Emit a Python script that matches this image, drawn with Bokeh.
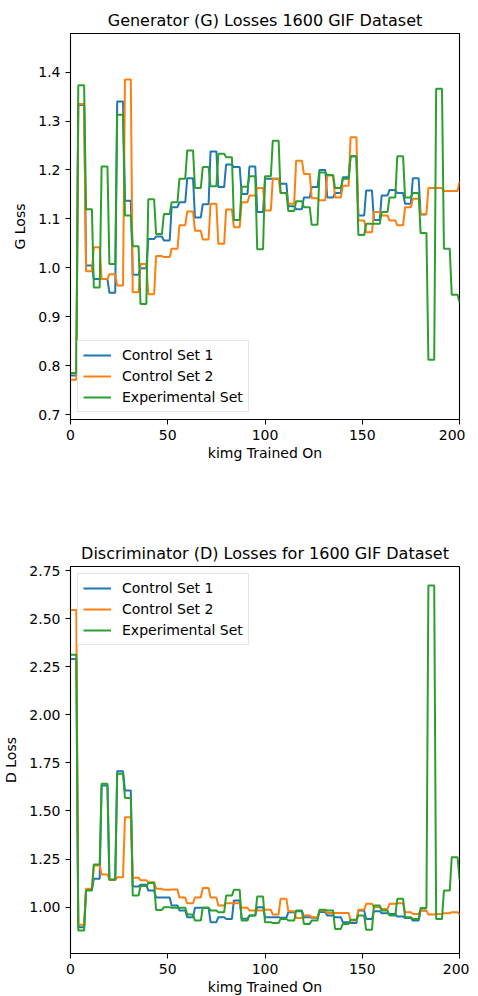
import numpy as np
from bokeh.plotting import figure
from bokeh.layouts import column
from bokeh.models import FixedTicker, PrintfTickFormatter, Range1d, Legend, LegendItem, ColumnDataSource
from bokeh.embed import file_html
from bokeh.resources import INLINE

# Each logged value spans one 4-kimg tick (recorded at every kimg of the tick)
TICK_KIMG = 4

series_names = ["Control Set 1", "Control Set 2", "Experimental Set"]
colors = ["#1f77b4", "#ff7f0e", "#2ca02c"]

# ---- Generator (G) losses per tick ----
g_control1 = [0.78, 1.333, 1.005, 0.977, 0.977, 0.949, 1.34, 1.137, 0.986, 0.999,
              1.059, 1.064, 1.056, 1.124, 1.134, 1.183, 1.103, 1.13, 1.238, 1.165,
              1.211, 1.206, 1.151, 1.207, 1.114, 1.182, 1.182, 1.172, 1.126, 1.12,
              1.144, 1.165, 1.2, 1.144, 1.153, 1.185, 1.228, 1.107, 1.158, 1.098,
              1.148, 1.159, 1.153, 1.131, 1.183, 1.109]
g_control2 = [0.771, 1.335, 0.993, 1.042, 0.977, 0.987, 0.964, 1.385, 0.95, 1.008,
              0.946, 1.024, 1.022, 1.039, 1.087, 1.115, 1.076, 1.058, 1.131, 1.049,
              1.119, 1.083, 1.134, 1.148, 1.163, 1.117, 1.182, 1.153, 1.131, 1.219,
              1.192, 1.142, 1.138, 1.189, 1.144, 1.168, 1.267, 1.097, 1.073, 1.114,
              1.107, 1.097, 1.087, 1.124, 1.141, 1.11, 1.163, 1.163, 1.157, 1.157,
              1.175]
g_experimental = [0.785, 1.373, 1.12, 0.96, 1.207, 1.008, 1.313, 1.107, 1.044, 0.926,
                  1.14, 1.069, 1.11, 1.134, 1.182, 1.24, 1.163, 1.206, 1.167, 1.233,
                  1.226, 1.098, 1.166, 1.187, 1.038, 1.187, 1.26, 1.153, 1.116, 1.136,
                  1.124, 1.088, 1.195, 1.19, 1.163, 1.182, 1.228, 1.067, 1.09, 1.09,
                  1.114, 1.144, 1.228, 1.144, 1.153, 1.071, 0.812, 1.366, 1.039, 0.945,
                  0.93]

# ---- Discriminator (D) losses per tick ----
d_control1 = [2.29, 0.896, 1.09, 1.147, 1.632, 1.142, 1.707, 1.606, 1.107, 1.117,
              1.086, 1.05, 1.05, 1.009, 0.983, 0.948, 0.997, 0.997, 0.922, 0.948,
              0.939, 1.035, 0.94, 0.957, 1.0, 0.948, 0.948, 0.945, 0.974, 0.979,
              0.948, 0.945, 0.975, 0.957, 0.948, 0.922, 0.917, 0.982, 0.939, 0.979,
              0.968, 0.965, 0.951, 0.944, 0.93, 0.982]
d_control2 = [2.545, 0.908, 1.095, 1.217, 1.17, 1.142, 1.155, 1.467, 1.153, 1.14,
              1.13, 1.095, 1.09, 1.092, 1.05, 1.02, 1.05, 1.10, 1.05, 1.009,
              1.02, 1.02, 0.997, 0.983, 0.983, 0.986, 0.962, 1.043, 0.979, 0.944,
              0.957, 0.948, 0.983, 0.969, 0.969, 0.969, 0.93, 0.986, 1.017, 1.0,
              0.991, 1.017, 1.02, 0.974, 0.965, 0.982, 0.962, 0.965, 0.968, 0.974,
              0.962]
d_experimental = [2.312, 0.878, 1.086, 1.222, 1.641, 1.142, 1.693, 1.568, 1.06, 1.11,
                  1.125, 0.985, 1.0, 0.997, 0.997, 0.962, 0.93, 0.997, 0.983, 0.974,
                  1.06, 1.09, 0.93, 0.957, 1.055, 0.922, 0.917, 0.939, 0.93, 0.983,
                  0.913, 0.93, 0.986, 0.983, 0.887, 0.913, 0.934, 0.956, 0.882, 1.008,
                  0.982, 0.956, 1.043, 0.948, 0.939, 0.996, 2.672, 0.939, 1.086, 1.26,
                  1.147]

x_ticks = [0, 50, 100, 150, 200]
g_ticks = [0.7, 0.8, 0.9, 1.0, 1.1, 1.2, 1.3, 1.4]
d_ticks = [1.00, 1.25, 1.50, 1.75, 2.00, 2.25, 2.50, 2.75]

FONT = "DejaVu Sans"


def per_kimg(values):
    v = np.repeat(np.asarray(values, dtype=float), TICK_KIMG)
    x = np.arange(len(v))
    return x, v


def make_fig(title, ylabel, yr, yticks, fmt, data, legend_loc, frame_h, border_top, border_bottom):
    p = figure(frame_width=389, frame_height=frame_h,
               x_range=Range1d(0, 200), y_range=Range1d(*yr),
               output_backend="svg", toolbar_location=None,
               min_border_left=66, min_border_right=10,
               min_border_top=border_top, min_border_bottom=border_bottom)
    p.title.text = title
    p.title.align = "center"
    p.title.text_font = FONT
    p.title.text_font_size = "16px"
    p.title.text_font_style = "normal"
    p.title.text_color = "black"
    p.title.standoff = 7
    p.xgrid.visible = False
    p.ygrid.visible = False
    p.outline_line_color = "black"
    p.outline_line_width = 1.1
    p.background_fill_color = "white"
    p.border_fill_color = "white"

    for ax in (p.xaxis[0], p.yaxis[0]):
        ax.major_tick_in = 0
        ax.major_tick_out = 5
        ax.minor_tick_out = 0
        ax.minor_tick_in = 0
        ax.major_tick_line_color = "black"
        ax.axis_line_color = "black"
        ax.major_label_text_font = FONT
        ax.major_label_text_font_size = "14px"
        ax.major_label_text_color = "black"
        ax.axis_label_text_font = FONT
        ax.axis_label_text_font_size = "14px"
        ax.axis_label_text_font_style = "normal"
        ax.axis_label_text_color = "black"
        ax.major_label_standoff = 5

    p.xaxis[0].ticker = FixedTicker(ticks=x_ticks)
    p.xaxis[0].axis_label = "kimg Trained On"
    p.xaxis[0].axis_label_standoff = 2
    p.yaxis[0].ticker = FixedTicker(ticks=yticks)
    p.yaxis[0].formatter = PrintfTickFormatter(format=fmt)
    p.yaxis[0].axis_label = ylabel
    p.yaxis[0].axis_label_standoff = 7

    items = []
    for name, col, vals in zip(series_names, colors, data):
        x, y = per_kimg(vals)
        src = ColumnDataSource(dict(x=x, y=y))
        r = p.line("x", "y", source=src, line_color=col, line_width=2)
        items.append(LegendItem(label=name, renderers=[r]))

    legend = Legend(items=items, location=legend_loc)
    legend.margin = 7
    legend.padding = 5
    legend.spacing = 3
    legend.glyph_width = 28
    legend.glyph_height = 18
    legend.label_height = 18
    legend.label_standoff = 11
    legend.label_text_font = FONT
    legend.label_text_font_size = "14px"
    legend.label_text_color = "black"
    legend.border_line_color = "#cccccc"
    legend.border_line_width = 1
    legend.background_fill_alpha = 0.8
    p.add_layout(legend)
    return p


p1 = make_fig("Generator (G) Losses 1600 GIF Dataset", "G Loss", (0.69, 1.479), g_ticks, "%.1f",
              [g_control1, g_control2, g_experimental], "bottom_left", 386, 33, 119)
p2 = make_fig("Discriminator (D) Losses for 1600 GIF Dataset", "D Loss", (0.759, 2.771), d_ticks, "%.2f",
              [d_control1, d_control2, d_experimental], "top_left", 387, 25, 35)

layout = column(p1, p2, spacing=0)
open("out.html", "w").write(file_html(layout, INLINE))
